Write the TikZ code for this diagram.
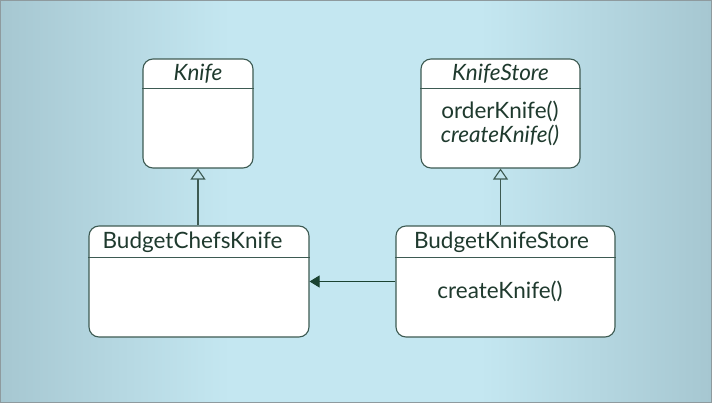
\documentclass[tikz,border=0pt]{standalone}
\usepackage{fontspec}
\setmainfont{Lato}
\usepackage{tikz}
\usetikzlibrary{calc,positioning,arrows.meta}
\definecolor{bgmid}{HTML}{C4E7F1}
\definecolor{bgedge}{HTML}{A6C7D1}
\definecolor{framegray}{HTML}{8E9A9E}
\definecolor{boxline}{HTML}{3D5A52}
\definecolor{umltext}{HTML}{1F3A2E}
\definecolor{arrowdark}{HTML}{1B4332}
\tikzset{
  classbox/.style={draw=boxline,fill=white,rounded corners=10pt,line width=1.1pt,inner sep=0pt},
  classname/.style={text=umltext,font=\fontsize{22.5}{27}\selectfont},
  method/.style={text=umltext,font=\fontsize{22.5}{27}\selectfont},
  inherit/.style={draw=boxline,line width=1.1pt,-{Triangle[open,length=11pt,width=15pt]}},
  assoc/.style={draw=arrowdark,line width=1.1pt,-{Triangle[length=10pt,width=12pt,fill=arrowdark]}},
}

\begin{document}
\begin{tikzpicture}[x=1pt,y=-1pt]
\useasboundingbox (0,0) rectangle (715,406);
% background
\shade[left color=bgedge,right color=bgmid] (0.5,1) rectangle (230,402);
\fill[bgmid] (229,1) rectangle (481,402);
\shade[left color=bgmid,right color=bgedge] (480,1) rectangle (711,402);
\draw[draw=framegray,line width=1pt] (0.5,1) rectangle (711,402);
% Knife
\node[classbox,minimum width=110pt,minimum height=109pt] (knife) at (198,113.5) {};
\draw[boxline,line width=1.1pt] ($(knife.north west)+(0,30)$) -- ($(knife.north east)+(0,30)$);
\node[classname] (knifename) at ($(knife.north)+(0,15)$) {\textit{Knife}};
% KnifeStore
\node[classbox,minimum width=159pt,minimum height=109pt] (store) at (500.5,113.5) {};
\draw[boxline,line width=1.1pt] ($(store.north west)+(0,30)$) -- ($(store.north east)+(0,30)$);
\node[classname] (storename) at ($(store.north)+(0,15)$) {\textit{KnifeStore}};
\node[method] (order) at (500,111) {orderKnife()};
\node[method] (create) at (500,135) {\textit{createKnife()}};
% BudgetChefsKnife
\node[classbox,minimum width=220pt,minimum height=111pt] (bchef) at (199,281.5) {};
\draw[boxline,line width=1.1pt] ($(bchef.north west)+(0,32)$) -- ($(bchef.north east)+(0,32)$);
\node[classname] (bchefname) at (192.5,242) {BudgetChefsKnife};
% BudgetKnifeStore
\node[classbox,minimum width=219pt,minimum height=111pt] (bstore) at (505.5,281.5) {};
\draw[boxline,line width=1.1pt] ($(bstore.north west)+(0,32)$) -- ($(bstore.north east)+(0,32)$);
\node[classname] (bstorename) at (501.5,242) {BudgetKnifeStore};
\node[method] (bcreate) at (500,291) {createKnife()};
% connectors
\draw[inherit] (bchef.north -| knife.south) -- (knife.south);
\draw[inherit] (bstore.north -| store.south) -- (store.south);
\draw[assoc] (bstore.west) -- (bchef.east);
\end{tikzpicture}
\end{document}
